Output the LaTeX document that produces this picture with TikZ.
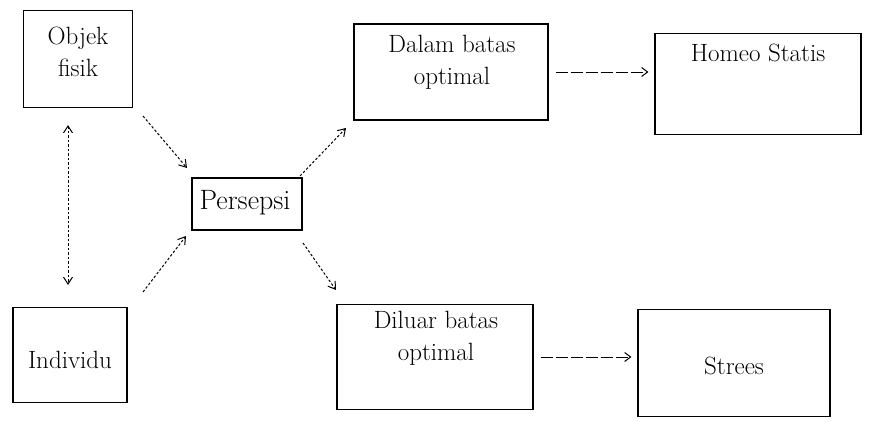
\documentclass[tikz,border=0pt]{standalone}
\usetikzlibrary{arrows.meta}
\begin{document}
\begin{tikzpicture}[x=1pt,y=-1pt,
  box/.style={draw, line width=1.1pt, inner sep=0pt},
  txt/.style={font=\fontsize{25}{32}\selectfont, align=center, inner sep=0pt},
  diag/.style={dash pattern=on 2.5pt off 2pt, line width=1pt, -{Straight Barb[length=7pt,width=9pt]}},
  horiz/.style={dash pattern=on 12pt off 3pt, line width=1pt, -{Straight Barb[length=6pt,width=9pt]}}]
\useasboundingbox (0,0) rectangle (870,421);
% boxes
\node[box, minimum width=109pt, minimum height=97pt] (obj) at (78,59) {};
\node[txt] (objt) at (78,52) {Objek\\fisik};
\node[box, minimum width=114pt, minimum height=95pt] (ind) at (70,355) {};
\node[txt] (indt) at (70,360) {Individu};
\node[box, minimum width=110pt, minimum height=52pt] (per) at (247,204) {};
\node[txt, font=\fontsize{28}{32}\selectfont] (pert) at (245,203) {Persepsi};
\node[box, minimum width=194pt, minimum height=96pt] (dal) at (451,72) {};
\node[txt] (dalt) at (452,62) {Dalam batas\\optimal};
\node[box, minimum width=206pt, minimum height=101pt] (hom) at (758,84) {};
\node[txt, anchor=north] (homt) at (758,44) {Homeo Statis};
\node[box, minimum width=196pt, minimum height=105pt] (dil) at (435,357) {};
\node[txt] (dilt) at (436,338) {Diluar batas\\optimal};
\node[box, minimum width=192pt, minimum height=107pt] (str) at (734,363) {};
\node[txt] (strt) at (734,366) {Strees};
% connectors
\draw[diag, {Straight Barb[length=7pt,width=9pt]}-{Straight Barb[length=7pt,width=9pt]}] ([yshift=-17pt]obj.south -| 68,0) -- ([yshift=22pt]ind.north -| 68,0);
\coordinate (a1) at (143,116);
\coordinate (a2) at (143,292);
\coordinate (a3) at (300,176);
\coordinate (a4) at (303,243);
\draw[diag] (a1) -- (187,168);
\draw[diag] (a2) -- (186,236);
\draw[diag] (a3) -- (346,128);
\draw[diag] (a4) -- (336,290);
\draw[horiz] (dal.east) ++(7pt,0) -- ([xshift=-6pt]hom.west |- dal.east);
\draw[horiz] (dil.east) ++(7pt,0) -- ([xshift=-6pt]str.west |- dil.east);
\end{tikzpicture}
\end{document}
